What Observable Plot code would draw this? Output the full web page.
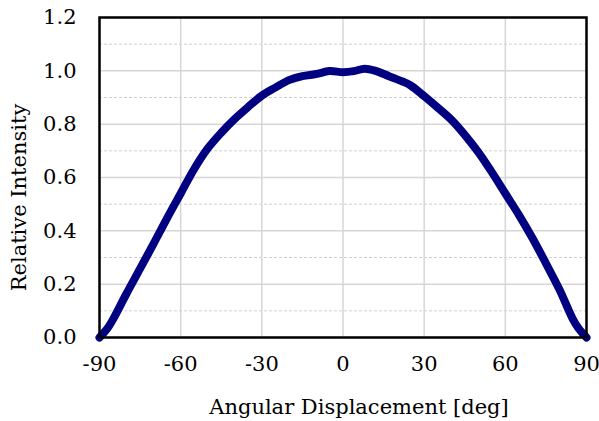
<!DOCTYPE html>
<html>
<head>
<meta charset="utf-8">
<script src="https://cdn.jsdelivr.net/npm/d3@7"></script>
<script src="https://cdn.jsdelivr.net/npm/@observablehq/plot@0.6"></script>
<style>
  html, body { margin: 0; padding: 0; background: #fff; }
  #chart svg, #chart svg text { font-family: "DejaVu Serif", "Liberation Serif", serif !important; }
</style>
</head>
<body>
<div id="chart"></div>
<script>
const angles =    [-90, -87, -85, -80, -75, -70, -65, -60, -55, -50, -45, -40, -35, -30, -25, -20, -15, -10, -5, 0, 4, 8, 12, 17, 22, 25, 30, 35, 40, 45, 50, 55, 60, 65, 70, 75, 80, 85, 87, 90];
const intensity = [0, 0.035, 0.068, 0.165, 0.258, 0.352, 0.448, 0.54, 0.632, 0.709, 0.768, 0.82, 0.865, 0.907, 0.937, 0.965, 0.98, 0.988, 0.999, 0.995, 0.999, 1.008, 1.0, 0.98, 0.96, 0.945, 0.905, 0.862, 0.817, 0.76, 0.695, 0.62, 0.54, 0.46, 0.373, 0.278, 0.18, 0.068, 0.035, 0];
const xTicks = [-90, -60, -30, 0, 30, 60, 90];
const yTicks = [0, 0.2, 0.4, 0.6, 0.8, 1.0, 1.2];
const yMinor = [0.1, 0.3, 0.5, 0.7, 0.9, 1.1];
const xLabel = "Angular Displacement [deg]";
const yLabel = "Relative Intensity";

const data = angles.map((a, i) => ({angle: a, value: intensity[i]}));

const chart = Plot.plot({
  width: 599,
  height: 421,
  marginLeft: 99,
  marginRight: 13,
  marginTop: 17,
  marginBottom: 84,
  style: {fontSize: "21px", color: "#000", background: "#fff"},
  x: {domain: [-90, 90]},
  y: {domain: [0, 1.2]},
  marks: [
    Plot.ruleY(yMinor, {stroke: "#cfcfcf", strokeWidth: 1, strokeDasharray: "3,2"}),
    Plot.ruleY(yTicks, {stroke: "#d6d6d6", strokeWidth: 1.5}),
    Plot.ruleX(xTicks, {stroke: "#d6d6d6", strokeWidth: 1.5}),
    Plot.axisX({ticks: xTicks, tickSize: 0, tickPadding: 19, tickFormat: d => String(d), fontSize: 21, label: null}),
    Plot.axisY({ticks: yTicks, tickSize: 0, tickPadding: 23, tickFormat: d3.format(".1f"), fontSize: 21, label: null}),
    Plot.text([xLabel], {frameAnchor: "bottom", dx: 16, dy: 70, fontSize: 21, textAnchor: "middle", lineAnchor: "middle", fill: "#000"}),
    Plot.text([yLabel], {frameAnchor: "left", rotate: -90, dx: -80, dy: 20, fontSize: 21, textAnchor: "middle", lineAnchor: "middle", fill: "#000"}),
    Plot.line(data, {x: "angle", y: "value", stroke: "#000080", strokeWidth: 8, curve: "catmull-rom", strokeLinecap: "round", strokeLinejoin: "round"}),
    Plot.frame({stroke: "#000", strokeWidth: 2.5})
  ]
});
document.getElementById("chart").appendChild(chart);
</script>
</body>
</html>
